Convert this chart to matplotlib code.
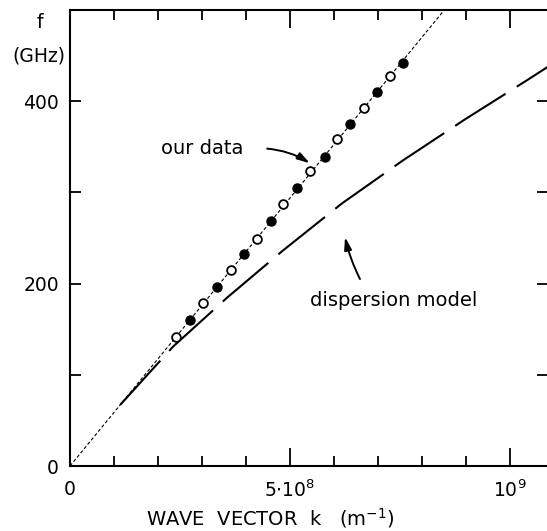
import matplotlib
matplotlib.use("Agg")
import matplotlib.pyplot as plt
import matplotlib.transforms as mtransforms
import numpy as np

# measured points (wave vector in 1/m, frequency in GHz)
k_open = np.array([2.41, 3.03, 3.65, 4.25, 4.85, 5.45, 6.07, 6.68, 7.27]) * 1e8
f_open = np.array([141.8, 178.6, 214.8, 248.9, 286.8, 323.1, 358.2, 392.3, 427.5])
k_filled = np.array([2.73, 3.34, 3.95, 4.57, 5.16, 5.80, 6.36, 6.98, 7.57]) * 1e8
f_filled = np.array([160.4, 196.2, 232.4, 268.1, 304.4, 338.5, 374.7, 409.9, 441.8])

# dispersion model curve
k_model = np.array([1.14, 2.34, 3.57, 4.84, 6.18, 7.57, 8.98, 10.39, 10.90]) * 1e8
f_model = np.array([67.0, 130.8, 184.6, 236.3, 287.9, 335.2, 380.2, 423.1, 439.0])

xticks = [0, 5e8, 1e9]
xtick_labels = ['0', r'5$\cdot$10$^{8}$', r'10$^{9}$']
yticks = [0, 200, 400]

plt.rcParams['font.family'] = ['DejaVu Sans']
plt.rcParams['mathtext.default'] = 'regular'
plt.rcParams['lines.scale_dashes'] = False

W, H = 547, 531
fig = plt.figure(figsize=(W / 100, H / 100), dpi=100)
ax = fig.add_axes([70 / W, 65 / H, 478.3 / W, 456 / H])
ax.set_xlim(0, 1.087e9)
ax.set_ylim(0, 500)

# straight line through origin fitted to our data
k_all = np.concatenate([k_open, k_filled])
f_all = np.concatenate([f_open, f_filled])
slope = np.sum(k_all * f_all) / np.sum(k_all ** 2)
ax.axline((0, 0), slope=slope, color='black', lw=0.8, dashes=(2.4, 1.6), zorder=2)

ax.plot(k_model, f_model, color='black', lw=1.5, dashes=(43, 9.5),
        dash_capstyle='butt', zorder=2)

ax.plot(k_filled, f_filled, 'o', ms=6.5, mfc='black', mec='black', mew=1.0, zorder=3)
ax.plot(k_open, f_open, 'o', ms=6.3, mfc='white', mec='black', mew=1.3, zorder=3)

fs = 13.5
arrow = dict(arrowstyle='-|>,head_length=0.75,head_width=0.22', color='black',
             lw=1.4, shrinkA=0, shrinkB=0)
ax.text(3.0e8, 348, 'our data', ha='center', va='center', fontsize=14)
ax.annotate('', xy=(5.45e8, 332), xytext=(4.48e8, 348),
            arrowprops=dict(arrow, connectionstyle='arc3,rad=-0.12'))
ax.text(7.36e8, 181, 'dispersion model', ha='center', va='center', fontsize=14)
ax.annotate('', xy=(6.25e8, 251), xytext=(6.59e8, 205),
            arrowprops=dict(arrow, connectionstyle='arc3,rad=-0.06'))

ax.set_xticks(xticks)
ax.set_xticklabels(xtick_labels, fontsize=fs)
ax.set_xticks(np.arange(1e8, 1.09e9, 1e8), minor=True)
ax.set_yticks(yticks)
ax.set_yticklabels([str(v) for v in yticks], fontsize=fs)
ax.set_yticks([100, 300, 500], minor=True)

# the 5.10^8 label sits a little right of its tick in the original
shift = mtransforms.ScaledTranslation(10 / 100, 0, fig.dpi_scale_trans)
lbl = ax.get_xticklabels()[1]
lbl.set_transform(lbl.get_transform() + shift)

ax.tick_params(axis='x', which='major', direction='in', length=13, width=1.3,
               top=True, pad=10)
ax.tick_params(axis='x', which='minor', direction='in', length=7.5, width=1.3,
               top=True)
ax.tick_params(axis='y', which='both', direction='in', length=8, width=1.3,
               right=True, pad=8)

for s in ['left', 'bottom', 'top']:
    ax.spines[s].set_linewidth(1.5)
ax.spines['right'].set_visible(False)

ax.set_xlabel(r'WAVE  VECTOR  k   (m$^{-1}$)', fontsize=14, va='center')
ax.xaxis.set_label_coords((270 - 70) / 478.3, -52 / 456)
fig.text(40 / W, 1 - 22 / H, 'f', fontsize=fs, ha='center', va='center')
fig.text(39 / W, 1 - 56 / H, '(GHz)', fontsize=fs, ha='center', va='center')

fig.savefig('out.png', dpi=100)
